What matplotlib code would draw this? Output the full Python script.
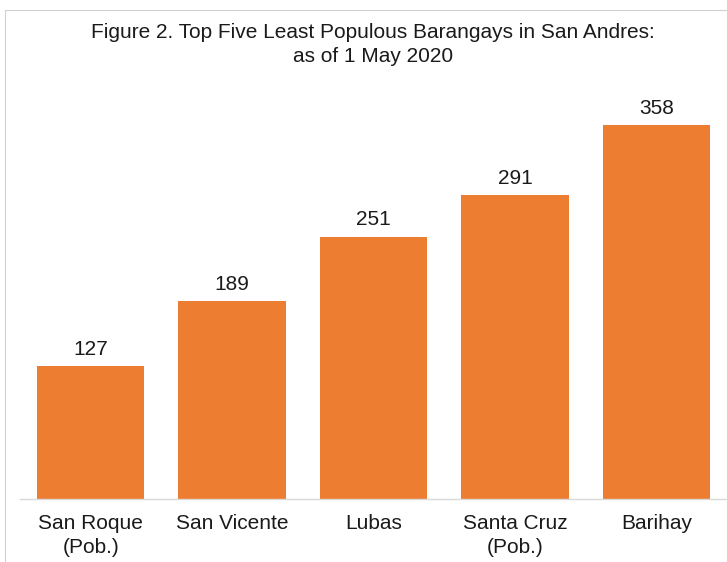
import matplotlib.pyplot as plt
from matplotlib.patches import Rectangle

plt.rcParams["font.family"] = ["Liberation Sans", "DejaVu Sans"]

barangays = ["San Roque\n(Pob.)", "San Vicente", "Lubas", "Santa Cruz\n(Pob.)", "Barihay"]
population = [127, 189, 251, 291, 358]

fig = plt.figure(figsize=(7.27, 5.62), dpi=100)
ax = fig.add_axes([0.0275, 0.112, 0.9725, 0.744])

bars = ax.bar(range(len(barangays)), population, width=0.76, color="#ED7D31")
for b, v in zip(bars, population):
    ax.text(b.get_x() + b.get_width() / 2, v + 7, str(v),
            ha="center", va="bottom", fontsize=15, color="#1a1a1a")

ax.set_xlim(-0.5, 4.5)
ax.set_ylim(0, 400)
ax.set_xticks(range(len(barangays)))
ax.set_xticklabels(barangays, fontsize=15, color="#1a1a1a", linespacing=1.3)
ax.tick_params(axis="x", length=0, pad=11)
ax.set_yticks([])
for s in ["top", "right", "left"]:
    ax.spines[s].set_visible(False)
ax.spines["bottom"].set_color("#d9d9d9")
ax.spines["bottom"].set_linewidth(1)

fig.text(0.513, 0.921, "Figure 2. Top Five Least Populous Barangays in San Andres:\nas of 1 May 2020",
         ha="center", va="center", fontsize=15, color="#1a1a1a", linespacing=1.35)

# faint outer frame of the original chart box
fig.patches.append(Rectangle((0.007, -0.05), 1.1, 1.032, transform=fig.transFigure,
                             fill=False, edgecolor="#d0d0d0", linewidth=0.8))

fig.savefig("out.png", dpi=100)
